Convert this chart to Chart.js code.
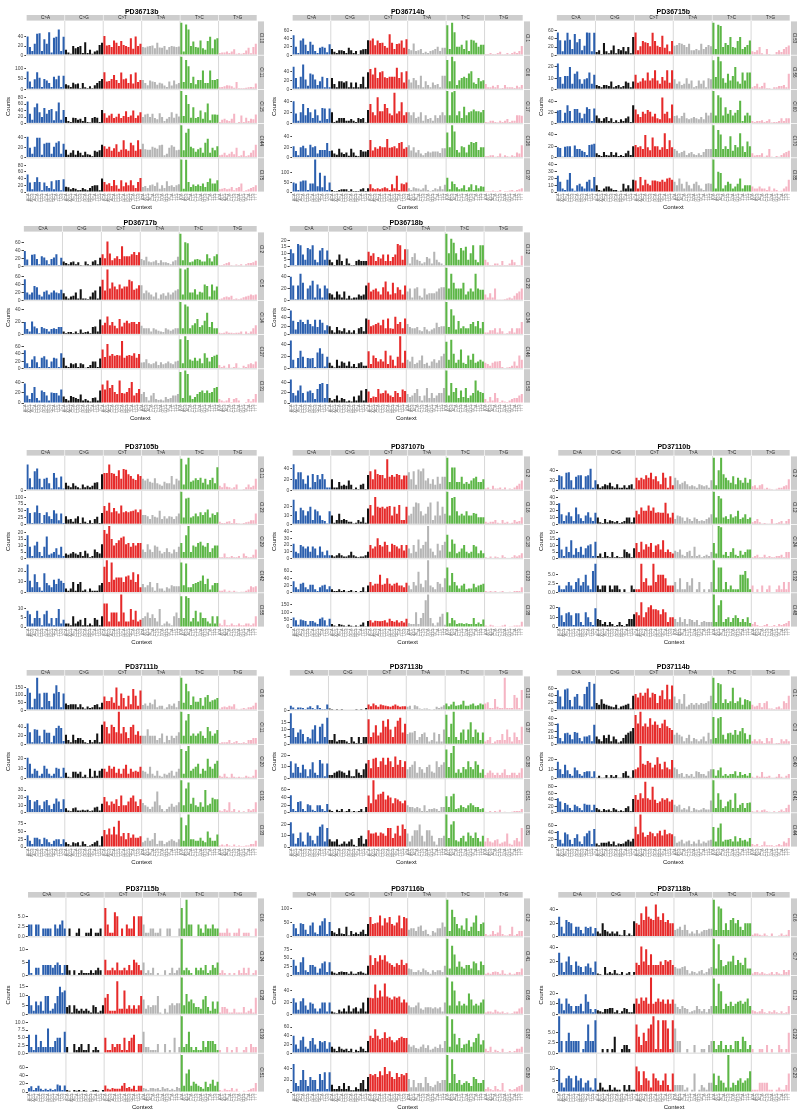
<!DOCTYPE html>
<html>
<head>
<meta charset="utf-8">
<script src="https://cdn.jsdelivr.net/npm/chart.js@4.4.1/dist/chart.umd.min.js"></script>
<style>
  body { margin: 0; background: #fff; width: 800px; height: 1116px; position: relative; overflow: hidden; }
  canvas { position: absolute; }
</style>
</head>
<body>
<script>
// mutation classes and the 96 trinucleotide contexts
const mutTypes = ['C>A', 'C>G', 'C>T', 'T>A', 'T>C', 'T>G'];
const mutColors = ['#2b5fae', '#121212', '#e62a2a', '#b5b5b5', '#5cb646', '#f5b5c4'];
const bases = ['A', 'C', 'G', 'T'];
const contexts = [];
mutTypes.forEach(m => bases.forEach(a => bases.forEach(b => contexts.push(a + m[0] + b))));

const samples = ['PD36713b', 'PD36714b', 'PD36715b', 'PD36717b', 'PD36718b', 'PD37105b', 'PD37107b',
  'PD37110b', 'PD37111b', 'PD37113b', 'PD37114b', 'PD37115b', 'PD37116b', 'PD37118b'];

const cloneLabels = [
  ['Cl.10', 'Cl.11', 'Cl.15', 'Cl.44', 'Cl.75'],
  ['Cl.1', 'Cl.6', 'Cl.17', 'Cl.26', 'Cl.37'],
  ['Cl.53', 'Cl.56', 'Cl.60', 'Cl.70', 'Cl.85'],
  ['Cl.2', 'Cl.5', 'Cl.14', 'Cl.27', 'Cl.31'],
  ['Cl.12', 'Cl.23', 'Cl.34', 'Cl.46', 'Cl.50'],
  ['Cl.11', 'Cl.23', 'Cl.29', 'Cl.42', 'Cl.55'],
  ['Cl.2', 'Cl.16', 'Cl.18', 'Cl.23', 'Cl.38'],
  ['Cl.2', 'Cl.12', 'Cl.24', 'Cl.32', 'Cl.48'],
  ['Cl.6', 'Cl.11', 'Cl.20', 'Cl.31', 'Cl.33'],
  ['Cl.10', 'Cl.37', 'Cl.38', 'Cl.51', 'Cl.81'],
  ['Cl.1', 'Cl.3', 'Cl.40', 'Cl.41', 'Cl.44'],
  ['Cl.6', 'Cl.24', 'Cl.28', 'Cl.39', 'Cl.51'],
  ['Cl.2', 'Cl.41', 'Cl.65', 'Cl.87', 'Cl.89'],
  ['Cl.6', 'Cl.7', 'Cl.12', 'Cl.22', 'Cl.23']
];

// counts per clone, 96 values in context order (C>A, C>G, C>T, T>A, T>C, T>G)
const counts_PD36713b = [
  [41,18,9,25,47,48,9,35,25,50,6,38,40,56,9,40, 12,6,3,20,15,18,20,5,28,5,12,3,8,10,22,27, 42,21,22,18,32,27,20,31,22,20,18,37,14,41,20,25, 18,17,19,20,21,15,27,17,16,20,12,18,20,19,18,19, 71,8,67,56,20,30,18,17,32,15,12,31,40,15,34,37, 5,6,6,8,5,8,13,3,4,3,5,10,16,4,18,25],
  [85,38,12,48,82,55,12,50,42,30,12,60,48,65,12,65, 25,20,12,32,25,28,5,30,10,5,15,5,20,30,40,50, 82,38,40,50,68,45,30,80,48,52,30,72,28,80,35,45, 45,30,20,42,38,35,22,32,28,18,12,38,18,42,25,30, 155,35,140,110,30,60,25,45,45,90,30,30,90,45,45,50, 10,12,15,20,18,15,8,35,5,5,5,8,10,12,10,28],
  [68,30,12,50,62,35,20,48,30,42,45,10,38,65,12,42, 20,8,5,18,17,12,15,8,20,5,3,17,20,18,5,42, 32,18,25,30,17,21,30,17,23,38,20,25,40,17,25,35, 20,28,30,20,30,17,13,32,20,8,15,20,35,18,30,22, 100,23,88,60,18,50,17,20,40,15,35,62,10,28,28,27, 5,12,15,10,8,15,30,2,5,25,5,18,8,15,13,28],
  [42,20,8,22,40,40,6,28,30,30,8,22,30,33,8,28, 16,6,10,15,6,14,10,5,12,7,6,3,14,12,15,26, 23,18,22,14,19,27,12,16,35,17,14,30,25,14,35,17, 28,17,16,16,22,20,18,25,26,5,8,20,25,22,15,16, 65,15,50,58,22,19,12,17,20,10,30,38,10,20,15,23, 5,6,10,5,8,12,7,20,3,5,14,3,5,10,15,26],
  [52,28,8,30,44,30,5,28,18,12,32,8,35,36,5,38, 16,14,8,12,10,5,6,12,8,5,12,18,20,20,5,40, 30,22,26,18,36,20,10,35,17,28,20,35,20,12,30,42, 15,18,12,20,22,18,28,10,20,12,32,18,20,15,20,23, 97,10,96,30,15,22,18,22,18,25,15,30,40,25,25,35, 8,10,12,8,10,15,5,12,15,25,3,5,8,12,15,20]
];
const counts_PD36714b = [
  [48,20,5,35,40,25,10,32,25,10,5,18,20,18,7,26, 15,8,5,12,12,10,5,18,12,5,10,2,12,14,15,36, 35,40,24,35,29,30,22,18,50,30,15,27,28,35,18,38, 15,12,28,10,12,15,5,8,5,10,12,15,20,10,18,18, 72,15,78,55,20,20,25,15,35,10,37,35,30,20,25,25, 3,3,5,3,3,5,8,2,2,5,2,5,8,5,10,22],
  [50,25,5,28,55,22,8,35,33,22,10,18,28,5,25,5, 25,12,5,18,18,15,18,5,15,5,15,5,12,28,5,38, 45,33,48,25,38,40,27,25,28,28,28,48,25,38,15,40, 22,15,25,20,10,30,5,18,10,5,15,10,12,5,30,30, 65,18,72,62,10,20,25,28,25,35,40,15,12,25,18,20, 12,5,5,8,5,10,2,3,10,5,5,5,3,8,5,10],
  [40,18,5,20,35,15,28,20,10,25,15,5,28,27,8,27, 20,3,5,10,10,10,5,5,8,5,3,10,8,10,2,24, 35,20,15,47,22,22,35,28,18,15,55,18,22,38,15,20, 20,15,20,10,12,20,5,15,8,10,5,15,10,15,20,15, 58,15,56,58,15,22,10,30,15,20,22,25,22,22,20,24, 3,2,5,5,3,2,5,3,5,8,3,5,5,15,15,14],
  [22,13,5,20,23,18,5,25,20,22,8,15,15,15,28,13, 14,8,6,17,10,7,10,4,17,10,4,3,15,12,12,15, 34,14,20,17,22,20,20,36,19,20,22,18,28,30,17,20, 24,14,20,10,15,8,5,9,12,10,12,12,12,9,18,18, 48,20,62,50,15,10,22,20,10,25,30,28,30,15,20,20, 3,3,5,5,2,3,8,2,5,3,2,5,3,10,8,24],
  [50,45,10,55,60,60,10,45,45,170,30,100,25,85,10,50, 10,5,5,10,15,15,15,5,15,5,5,5,15,20,5,20, 40,20,15,20,15,20,25,20,10,40,20,85,10,45,40,50, 20,10,25,20,18,12,20,38,10,5,10,20,15,30,15,38, 75,15,55,42,25,15,20,35,10,25,40,10,35,20,30,28, 5,5,5,8,5,5,10,3,5,5,8,10,5,10,15,20]
];
const counts_PD36715b = [
  [56,37,10,36,55,38,15,52,32,40,12,23,56,55,10,55, 8,12,3,30,10,5,12,24,5,15,12,20,10,20,5,45, 56,12,22,35,32,30,22,55,35,23,20,48,18,26,10,35, 23,25,30,28,25,20,28,12,12,15,12,28,15,20,25,22, 80,15,75,72,20,30,25,45,20,18,35,45,15,20,25,36, 10,8,12,20,5,2,15,3,0,2,8,12,8,15,20,24],
  [23,11,5,12,12,20,5,14,16,9,5,9,10,15,5,13, 4,3,2,4,4,3,7,2,3,4,2,3,7,6,2,7, 13,6,7,10,8,15,8,10,17,8,5,11,8,17,6,17, 9,5,7,4,5,10,5,8,2,3,8,5,8,2,10,9, 26,11,29,25,10,6,14,8,12,20,7,5,15,8,15,15, 2,3,5,2,3,6,1,1,0,2,2,3,3,4,2,14],
  [24,25,5,20,34,23,5,27,27,20,10,18,30,27,5,28, 15,10,5,10,12,5,10,3,6,3,8,5,10,13,3,34, 26,17,12,22,18,25,22,13,18,10,8,48,18,22,10,35, 14,15,10,14,20,10,8,10,12,10,8,12,8,20,15,20, 60,15,52,48,15,30,18,25,15,20,25,42,5,15,20,15, 5,3,5,5,6,3,5,8,2,3,3,5,10,5,10,10],
  [18,17,2,19,20,20,2,21,15,15,12,10,5,22,23,24, 8,5,3,10,5,4,10,5,9,3,5,3,8,12,5,20, 22,18,20,15,39,18,13,35,20,20,14,18,42,15,30,18, 15,12,8,10,12,5,8,10,6,5,8,5,10,15,15,15, 56,15,48,40,15,20,15,37,12,22,18,42,20,10,28,20, 8,4,5,5,8,2,4,15,2,1,3,2,5,8,10,12],
  [24,15,5,3,18,28,5,2,10,12,8,5,15,18,5,22, 10,3,2,5,8,8,5,3,3,1,2,12,5,10,5,18, 17,5,22,10,18,12,10,17,17,16,15,18,15,20,21,18, 15,10,20,12,5,15,10,5,12,15,10,5,3,12,13,12, 48,5,30,28,5,10,15,12,5,8,12,20,5,10,10,10, 8,5,5,8,5,5,3,8,2,5,3,1,2,5,8,18]
];
const counts_PD36717b = [
  [38,17,2,29,30,18,5,25,22,15,5,18,22,30,3,21, 12,8,5,10,12,5,10,3,2,12,5,3,12,15,5,21, 30,20,62,32,15,20,25,18,50,25,25,25,30,36,28,35, 18,15,24,12,10,12,15,8,15,10,10,8,5,12,15,24, 82,15,60,58,10,12,17,18,16,12,12,30,20,12,25,30, 3,3,5,8,10,3,2,4,3,5,1,5,8,8,10,14],
  [53,20,15,20,36,33,14,10,22,25,15,20,25,20,18,27, 18,10,5,10,12,20,5,28,5,5,3,10,20,25,5,35, 52,25,78,30,45,35,28,40,30,35,35,52,48,27,30,38, 38,18,25,20,15,10,20,5,15,18,12,20,15,20,25,28, 80,15,78,82,20,20,28,15,22,20,40,36,10,40,25,35, 3,5,8,10,8,12,3,5,3,5,8,10,12,15,13,15],
  [20,9,5,21,13,10,2,12,10,9,5,9,10,9,12,12, 5,2,4,4,2,5,2,8,3,4,5,2,12,13,5,24, 15,19,29,15,20,14,10,25,13,19,22,18,20,20,17,20, 14,10,10,10,5,10,8,6,5,4,10,8,6,8,10,10, 52,10,48,45,10,15,18,25,12,15,22,35,12,20,10,10, 3,2,3,5,3,3,2,3,3,5,1,5,2,5,10,15],
  [50,15,5,25,34,18,5,30,34,25,5,20,30,28,5,42, 30,8,5,15,12,15,5,15,12,3,5,10,20,20,5,28, 52,32,67,35,40,35,37,36,75,30,35,37,35,42,30,40, 17,18,26,15,12,15,20,10,18,12,15,20,15,12,20,22, 80,15,88,78,25,22,30,22,28,15,42,30,20,32,35,38, 10,5,8,3,12,3,5,15,3,2,8,5,12,15,12,20],
  [39,15,8,20,32,10,5,25,22,15,5,21,20,20,15,27, 13,8,5,14,12,10,8,17,5,8,5,3,10,11,5,25, 37,27,45,30,36,22,18,45,20,19,22,30,42,15,20,28, 18,22,12,5,15,20,8,6,7,5,12,8,10,15,15,18, 62,10,65,58,15,8,12,18,22,25,20,25,20,22,30,32, 8,5,3,5,10,2,8,10,5,1,1,2,8,3,8,18]
];
const counts_PD36718b = [
  [13,10,1,17,16,9,5,14,13,16,5,3,12,14,5,12, 5,3,1,5,9,4,1,6,2,1,1,4,5,4,4,4, 11,8,10,4,7,6,9,4,9,4,7,9,17,16,5,13, 13,2,7,10,5,4,2,3,7,6,2,11,5,3,2,1, 25,10,21,18,10,5,14,12,15,5,10,16,5,3,16,16, 5,3,1,1,2,2,1,4,1,1,2,5,3,1,1,8],
  [40,25,2,25,45,30,2,20,25,33,5,27,20,5,25,20, 12,10,5,15,10,5,15,3,8,3,5,5,10,8,10,25, 30,15,18,20,15,10,22,32,15,10,30,12,22,18,10,25, 15,20,5,20,22,8,5,20,10,12,12,12,15,20,22,22, 55,20,45,30,20,20,20,30,10,15,20,15,45,20,18,18, 10,5,12,5,20,1,1,1,2,3,5,3,8,12,15,20],
  [57,33,12,30,35,30,25,35,25,20,35,18,35,28,10,22, 20,10,5,18,10,8,15,5,10,5,10,2,15,18,8,38, 35,20,22,25,28,22,35,15,38,15,14,42,25,30,15,38, 25,18,15,15,18,10,8,18,12,8,12,15,28,18,20,20, 77,18,60,45,12,32,15,20,15,15,25,30,20,32,15,30, 5,5,10,10,15,5,15,8,2,3,8,15,5,15,15,30],
  [47,15,2,18,30,20,3,18,17,18,3,27,34,25,4,20, 10,5,2,15,5,12,10,5,12,4,8,3,9,11,5,5, 29,8,22,18,12,16,12,30,8,22,15,5,20,54,10,30, 15,12,20,8,10,14,22,8,10,5,12,16,10,14,21,25, 45,15,48,25,10,15,32,10,8,22,15,25,10,12,15,12, 10,8,5,10,12,12,13,3,1,2,3,5,12,5,22,15],
  [47,20,15,25,35,20,5,23,25,20,8,28,38,40,10,38, 10,5,8,15,5,10,8,3,5,3,13,5,15,25,5,28, 23,10,13,12,28,19,20,25,19,15,12,24,20,12,27,24, 18,12,15,20,28,14,5,15,30,10,20,10,15,20,20,30, 65,15,40,22,30,10,25,12,30,10,15,20,45,25,22,20, 8,3,12,5,20,10,2,5,3,2,5,8,10,10,15,18]
];
const counts_PD37105b = [
  [45,21,5,33,38,20,5,20,22,12,3,30,22,5,24,3, 13,8,5,12,8,5,3,10,5,8,5,8,13,14,2,28, 30,30,45,30,29,25,35,20,37,36,28,25,20,18,28,25, 20,17,20,15,13,21,12,10,8,15,12,12,25,10,20,17, 55,10,45,57,15,17,21,18,22,13,20,10,18,22,12,40, 8,5,12,6,5,3,5,10,1,1,2,5,10,5,8,20],
  [60,42,5,45,70,42,5,35,45,30,20,52,40,15,40,5, 30,18,20,10,22,30,5,25,10,5,15,5,20,28,5,42, 68,50,80,45,60,48,40,70,45,48,45,48,50,55,45,55, 35,35,30,20,35,28,25,50,20,30,22,30,28,20,30,40, 120,25,95,98,25,30,40,30,45,35,45,55,25,40,35,45, 10,5,5,10,12,5,20,5,3,2,5,8,10,15,15,40],
  [18,9,2,10,13,5,2,9,17,3,4,5,8,3,9,2, 4,3,4,5,4,3,5,2,6,4,1,2,7,5,4,11, 22,19,25,15,10,12,14,16,17,11,12,9,12,10,12,12, 7,5,11,7,5,10,9,6,4,5,8,5,4,7,5,9, 12,5,18,25,5,10,9,12,13,10,9,12,5,8,10,10, 1,1,4,1,1,2,1,1,2,0,4,2,1,1,3,7],
  [26,11,5,17,10,5,2,18,9,7,5,12,8,13,11,9, 4,2,4,10,2,8,10,2,3,1,4,2,2,2,7,9, 24,30,10,28,12,14,14,14,10,15,16,12,19,10,17,5, 8,5,7,10,5,2,9,4,4,2,5,4,7,6,6,6, 28,7,27,5,5,8,9,10,11,16,8,13,3,7,9,9, 2,2,3,1,2,1,2,1,0,1,1,2,3,6,5,6],
  [9,7,2,5,9,5,1,7,9,2,5,1,5,10,2,4, 2,2,1,6,2,3,4,1,5,1,2,1,5,4,1,6, 13,13,3,8,8,8,3,18,8,3,3,10,4,9,3,4, 5,6,8,5,7,5,3,10,1,2,3,2,1,6,8,5, 17,5,17,16,3,5,9,3,8,5,5,3,2,6,2,6, 2,1,4,1,1,2,1,1,2,1,1,2,2,1,2,6]
];
const counts_PD37107b = [
  [48,20,33,33,20,12,27,5,30,15,28,20,30,20,5,5, 20,5,5,15,8,10,8,18,10,2,5,2,10,12,2,28, 35,20,38,30,28,28,22,57,25,28,25,30,28,20,27,27, 33,20,35,10,38,35,40,18,22,12,20,10,25,12,25,25, 60,15,42,42,15,15,25,12,15,12,18,22,25,15,15,20, 3,5,2,8,3,3,5,2,5,1,3,2,5,8,12,18],
  [28,15,5,19,16,10,15,20,5,17,15,10,5,4,1,15, 10,2,5,12,5,6,5,3,3,1,2,5,3,8,2,18, 22,10,31,20,19,20,18,20,21,10,20,12,22,5,5,20, 10,12,20,25,24,15,10,12,20,25,5,10,26,10,20,12, 37,10,30,31,15,10,12,10,15,10,10,13,12,8,8,8, 3,2,3,3,5,2,1,5,2,3,1,2,5,3,4,8],
  [22,10,8,20,18,15,18,10,18,15,5,18,10,5,12,5, 5,3,5,8,5,3,3,5,10,5,3,2,3,3,5,10, 20,15,18,30,20,18,25,20,10,22,20,18,15,20,12,20, 15,8,20,10,28,15,20,25,48,15,10,5,22,12,20,25, 35,10,28,22,8,10,15,20,10,8,10,20,18,8,12,8, 2,1,3,1,3,2,1,5,2,1,1,2,5,3,5,8],
  [32,15,10,25,28,15,10,22,22,10,5,15,20,22,10,18, 10,5,5,10,5,8,3,5,8,3,5,2,5,15,3,20, 30,20,25,25,50,22,25,40,25,20,25,28,20,20,15,28, 20,10,30,20,58,25,15,35,90,20,15,10,30,25,15,40, 70,20,55,30,20,12,20,25,10,12,12,25,15,20,22,25, 5,3,5,3,5,2,3,5,2,1,3,2,5,5,5,15],
  [65,45,15,50,45,40,15,40,40,30,20,55,65,45,10,55, 20,10,5,20,15,10,5,15,8,5,10,5,15,30,5,40, 45,30,42,40,38,40,45,30,55,40,35,45,30,40,30,55, 25,20,20,100,20,60,95,180,220,60,25,10,30,70,90,15, 100,25,60,45,20,25,25,20,25,20,20,60,20,30,20,50, 10,5,15,10,5,5,5,10,15,3,5,5,10,10,10,35]
];
const counts_PD37110b = [
  [30,28,5,35,36,20,5,27,30,30,5,28,30,43,5,20, 12,5,8,12,10,15,8,5,12,5,5,10,5,10,12,3, 25,20,25,22,30,25,35,22,28,18,12,35,25,5,28,10, 25,20,12,15,18,12,8,10,8,5,12,10,8,10,5,20, 65,10,40,65,32,25,20,15,28,12,25,20,15,25,15,22, 8,10,5,10,12,3,5,3,2,1,3,5,5,8,10,22],
  [31,15,5,13,18,12,5,25,15,9,5,13,18,10,5,17, 10,3,2,8,3,6,5,3,5,2,3,5,10,10,3,10, 20,15,25,20,20,28,20,25,17,18,17,17,32,16,10,17, 8,13,12,10,5,10,8,5,10,8,5,6,5,8,10,15, 48,10,42,38,10,12,8,15,10,12,20,8,10,15,8,10, 3,5,8,3,1,2,1,1,8,1,2,3,5,1,5,8],
  [16,7,2,9,5,14,3,8,5,9,3,8,10,11,2,13, 2,4,1,5,2,1,5,1,2,1,1,7,5,4,1,8, 12,5,13,7,11,9,12,5,10,11,7,14,5,7,5,4, 6,5,7,3,2,5,6,2,9,2,3,1,2,3,2,5, 12,4,25,24,3,5,2,5,8,3,2,6,3,5,7,7, 1,2,3,1,1,3,1,2,1,1,2,2,3,1,5,5],
  [2,1,1,2,3,2,1,3,4,2,3,5,2,1,6,8, 2,1,2,2,0,2,1,2,2,1,0,1,0,0,2,1, 1,1,8,3,4,2,2,8,3,5,5,5,4,2,2,2, 3,1,4,1,1,3,2,4,0,1,3,0,1,0,1,3, 9,1,7,7,1,3,1,2,1,1,1,5,5,6,4,1, 2,0,1,0,2,0,1,2,0,0,1,2,1,3,1,3],
  [20,12,5,14,15,12,2,14,14,5,2,15,10,5,2,19, 8,7,3,5,2,5,3,1,2,5,2,1,3,8,8,13, 15,12,25,10,15,20,22,18,18,17,13,18,15,5,10,10, 8,5,10,5,8,3,8,7,5,7,2,5,6,5,5,5, 33,5,22,27,5,8,10,5,9,12,9,5,8,5,10,4, 3,5,2,1,1,2,3,1,1,2,1,3,2,3,4,6]
];
const counts_PD37111b = [
  [145,115,20,75,215,110,20,115,115,60,25,110,165,120,20,110, 45,35,40,40,40,20,40,20,10,25,15,20,35,40,20,50, 90,60,60,85,50,150,30,110,80,25,95,40,140,95,30,130, 35,45,30,50,40,70,20,30,30,10,20,40,30,45,20,60, 215,50,175,125,35,90,55,55,80,30,85,100,55,65,70,80, 10,20,25,20,30,25,40,10,5,10,15,10,20,20,30,50],
  [48,28,5,35,34,20,5,34,27,27,5,20,38,43,38,8, 22,10,5,22,10,15,15,10,5,3,10,5,10,25,5,45, 53,40,25,45,40,28,75,25,40,28,15,40,45,22,30,20, 20,20,35,20,20,20,10,15,25,5,20,10,20,15,20,28, 75,20,55,70,20,25,20,25,30,20,15,40,30,20,25,33, 3,5,5,5,10,3,5,8,3,3,5,3,10,10,15,15],
  [21,15,5,10,8,3,5,13,10,5,3,5,11,10,2,11, 6,2,1,7,7,5,7,2,4,1,10,2,8,3,8,10, 10,7,13,10,12,6,10,5,10,14,5,10,7,8,7,12, 8,7,5,12,5,3,8,3,2,5,4,6,8,3,7,10, 30,5,28,33,8,10,12,15,5,10,8,20,12,10,15,18, 3,2,5,2,1,5,2,1,2,1,1,3,2,1,3,9],
  [23,17,5,15,17,10,5,15,17,10,5,12,19,15,5,18, 6,3,2,6,7,3,3,4,3,4,2,3,7,8,3,12, 21,15,10,15,12,18,9,23,10,10,15,20,23,15,9,18, 13,10,8,5,8,15,28,10,5,2,5,8,12,8,10,14, 43,10,32,40,12,20,10,8,14,8,30,10,12,20,18,18, 3,2,5,3,14,2,5,1,3,1,2,1,5,3,5,14],
  [38,20,10,30,30,25,10,30,25,15,10,20,25,25,10,25, 15,10,5,15,12,15,5,18,10,3,5,10,15,20,5,35, 55,40,60,40,65,40,85,35,45,25,45,30,40,30,30,35, 15,20,30,20,25,45,10,20,20,10,15,20,25,20,15,25, 95,20,70,105,25,25,20,20,30,20,15,50,30,20,20,40, 5,8,5,10,5,3,8,3,5,3,3,5,5,10,10,20]
];
const counts_PD37113b = [
  [40,25,10,25,25,20,10,25,35,20,10,45,20,10,10,50, 15,10,5,10,5,10,5,5,5,3,5,10,5,10,5,20, 50,35,60,45,30,50,45,40,35,30,40,50,40,30,35,35, 30,40,10,45,35,15,10,15,15,10,5,10,30,20,30,45, 60,35,50,75,40,45,50,85,40,40,50,60,40,45,60,50, 60,70,20,20,100,30,20,20,290,20,20,20,135,110,20,180],
  [21,11,5,8,10,7,2,5,4,10,13,2,12,14,5,18, 3,3,7,2,3,3,3,2,1,5,2,1,5,1,5,5, 17,5,8,13,6,8,16,12,17,10,5,12,16,18,8,14, 7,8,8,9,3,5,7,8,5,2,3,8,2,7,2,10, 20,5,14,22,5,3,8,10,3,10,15,5,10,8,3,8, 2,3,5,1,2,3,3,7,3,10,5,2,8,5,3,12],
  [15,5,13,10,5,12,8,2,8,14,5,3,16,13,2,13, 3,3,5,6,7,6,5,3,7,2,2,8,5,3,8,13, 16,9,17,18,10,15,18,12,18,15,10,19,12,16,10,15, 8,10,12,15,5,10,8,5,10,12,6,5,15,10,12,14, 25,10,22,28,5,8,5,10,8,15,10,8,15,12,5,8, 3,5,7,5,3,5,3,5,8,3,3,5,5,3,5,9],
  [46,10,5,28,30,10,5,22,20,8,5,20,20,10,5,23, 8,5,2,8,5,10,3,5,10,3,5,3,5,10,3,15, 45,25,85,35,48,50,55,35,45,40,25,38,35,30,25,32, 20,15,15,12,15,12,5,20,5,10,10,12,10,5,15,15, 43,15,43,50,10,12,20,15,12,20,25,20,15,15,10,12, 3,2,5,2,5,3,8,2,3,1,2,3,5,5,5,10],
  [22,12,3,8,13,5,2,13,10,6,3,10,18,20,5,17, 7,5,5,7,2,3,5,3,5,7,2,1,8,10,3,7, 15,12,12,13,10,13,12,10,17,17,8,12,19,10,20,16, 12,5,10,15,15,20,10,5,15,15,10,5,2,8,8,10, 29,8,20,23,6,5,8,10,5,13,10,8,13,8,5,10, 5,8,5,4,6,7,3,4,5,12,3,2,6,8,5,17]
];
const counts_PD37114b = [
  [55,38,10,57,60,28,10,37,45,12,10,45,65,78,10,73, 20,15,30,18,15,12,10,8,15,5,10,12,15,18,5,40, 45,35,48,40,48,60,35,48,45,20,40,55,30,70,30,68, 38,20,30,18,45,10,15,20,15,20,15,20,18,20,25,40, 90,20,75,72,20,30,20,25,62,20,25,35,15,30,28,25, 15,10,12,20,8,20,25,5,5,3,8,10,5,25,20,40],
  [32,10,5,17,18,15,8,19,18,10,5,12,12,14,5,30, 12,8,5,14,10,15,5,12,8,3,5,10,15,18,20,25, 45,32,50,28,32,27,40,30,35,30,25,32,38,28,25,22, 15,18,15,12,5,10,15,5,10,8,5,8,12,5,18,8, 42,10,40,42,15,8,17,18,15,22,15,20,25,17,8,15, 5,8,5,8,5,2,10,5,10,1,2,2,8,5,8,5],
  [18,10,5,15,9,5,3,12,9,5,3,7,8,8,2,8, 1,3,1,1,4,1,4,2,4,1,1,6,8,3,1,9, 10,12,35,16,15,19,17,12,15,23,16,10,18,12,10,20, 12,10,5,6,2,5,3,5,2,8,7,5,5,3,8,10, 10,3,9,12,3,5,3,5,5,8,3,7,4,5,3,6, 2,1,3,2,7,2,2,3,1,1,2,5,2,1,3,5],
  [45,35,10,30,25,15,8,25,20,15,8,28,25,25,8,25, 15,10,5,12,8,10,5,15,10,5,8,5,15,20,5,42, 55,40,60,45,95,45,40,80,40,30,35,45,40,45,35,40, 25,20,25,10,15,10,20,5,15,10,8,10,15,10,10,38, 100,15,60,40,15,20,35,40,15,60,15,25,30,15,30,32, 5,3,8,3,8,10,5,3,1,5,2,5,10,5,15,25],
  [44,20,10,40,35,20,8,25,35,15,8,30,38,45,8,50, 10,5,12,12,12,15,8,15,5,10,8,10,15,20,15,23, 56,35,90,40,28,33,42,38,30,38,45,32,48,35,38,35, 30,12,15,20,10,15,18,8,15,10,20,10,15,12,18,20, 55,15,53,65,15,20,20,22,15,30,15,25,18,20,15,25, 8,5,8,3,5,15,5,5,5,3,5,8,5,15,12,25]
];
const counts_PD37115b = [
  [3,3,0,3,3,0,2,2,2,2,0,3,2,3,4,2, 0,2,0,0,1,2,0,0,1,1,2,0,1,1,2,0, 7,3,1,1,6,5,0,2,0,3,2,2,5,0,5,5, 3,1,1,2,2,1,1,2,0,0,2,2,0,0,0,2, 7,2,9,3,3,0,0,3,2,1,3,2,2,3,2,2, 1,1,1,2,1,0,1,1,2,0,1,1,1,0,0,2],
  [6,1,0,3,3,0,4,4,4,4,3,4,5,4,1,4, 4,2,0,2,0,1,2,1,1,1,2,1,2,3,2,0, 6,2,2,3,2,5,2,2,3,2,4,2,6,5,4,2, 5,1,2,1,3,0,1,0,0,2,0,1,3,1,2,3, 14,2,3,2,1,0,3,2,3,2,4,1,2,4,3,5, 1,2,1,0,1,0,1,0,2,1,3,1,3,0,1,2],
  [10,5,2,7,5,7,2,10,10,2,3,6,10,15,12,13, 4,5,1,5,3,2,3,2,3,2,1,5,4,1,2,5, 9,11,2,2,2,18,3,3,13,3,5,3,5,3,5,10, 8,3,5,4,5,5,10,1,0,3,1,5,6,5,6,6, 20,5,11,7,8,6,4,4,3,8,10,4,2,7,3,7, 1,4,4,3,1,1,3,1,1,1,4,1,2,3,1,9],
  [6,2,1,6,2,4,2,2,8,2,2,4,5,5,0,7, 2,0,0,3,1,2,3,1,1,3,0,1,2,1,0,0, 5,1,1,3,2,3,3,1,5,1,4,5,6,0,3,3, 7,2,2,1,1,1,3,0,0,3,0,1,0,5,0,2, 12,2,3,7,2,1,2,1,1,4,2,4,4,4,3,1, 1,0,0,2,0,1,0,2,0,0,1,2,0,3,2,2],
  [10,14,5,10,15,8,5,8,5,8,5,7,18,16,5,16, 5,3,1,5,3,5,2,5,3,1,2,4,5,3,1,5, 16,8,6,10,8,8,8,15,22,10,12,8,15,5,15,15, 10,8,5,10,10,8,10,5,12,8,10,5,8,5,12,10, 90,15,45,55,15,25,20,15,12,8,25,12,20,30,15,25, 5,3,8,5,5,10,3,8,2,1,3,2,5,8,10,22]
];
const counts_PD37116b = [
  [45,30,10,48,45,25,10,40,50,15,10,40,55,65,10,52, 20,15,10,30,12,10,35,5,20,10,15,10,18,25,10,45, 70,45,48,50,75,40,65,50,70,45,40,50,75,30,70,65, 25,30,30,20,35,40,20,25,10,5,20,15,30,30,50,35, 130,20,95,70,45,30,40,25,65,20,35,50,75,20,45,50, 10,5,8,20,10,15,40,10,5,5,10,35,5,10,20,20],
  [45,28,10,38,52,15,10,30,30,25,8,20,35,40,10,38, 12,8,5,10,12,10,10,5,12,5,5,10,12,8,5,28, 58,30,50,40,58,45,58,40,35,30,25,35,30,45,30,35, 20,18,10,10,15,10,20,15,10,5,15,10,15,15,10,28, 105,20,85,60,25,40,25,20,30,30,20,40,35,15,40,30, 5,8,5,10,12,10,5,15,5,3,8,3,5,10,10,20],
  [27,20,8,22,27,15,8,20,18,10,5,10,20,20,5,20, 5,3,2,8,5,10,5,15,5,10,12,5,10,20,5,28, 28,27,50,28,40,30,52,30,28,25,30,28,30,20,25,20, 15,12,12,15,20,10,8,12,12,12,10,12,10,12,5,20, 62,15,55,40,15,22,15,18,15,35,25,15,18,15,20,25, 3,5,5,3,8,5,3,5,2,3,1,2,5,5,10,12],
  [40,20,10,30,38,15,10,28,35,20,10,28,25,28,10,25, 15,10,5,15,10,8,10,5,10,3,8,5,15,10,5,28, 40,35,55,40,32,35,48,35,38,30,25,30,35,38,35,35, 20,15,18,12,10,15,20,12,18,8,10,15,12,20,12,28, 85,15,78,45,20,35,12,20,22,30,15,25,35,45,20,30, 10,5,15,3,8,5,3,10,2,3,5,2,5,10,10,15],
  [47,15,10,20,37,20,10,25,20,20,5,30,20,33,5,33, 12,5,5,10,5,15,5,10,3,3,8,5,15,20,5,25, 30,28,30,25,35,28,42,30,35,25,22,32,25,30,28,32, 22,8,20,8,15,15,8,25,15,10,8,12,18,15,20,20, 62,15,55,30,15,20,12,15,18,15,10,25,22,15,15,20, 5,8,5,3,10,5,3,15,2,1,5,3,5,8,10,12]
];
const counts_PD37118b = [
  [30,15,5,25,22,20,5,15,15,10,5,15,13,15,5,13, 8,5,20,10,8,5,8,5,8,3,2,10,2,5,2,23, 20,18,35,25,45,30,27,25,48,30,25,35,22,25,20,20, 10,12,15,10,18,10,5,8,5,10,5,8,10,10,12,12, 55,10,45,42,10,20,10,25,28,20,25,15,10,20,20,20, 3,5,5,3,2,5,2,1,5,1,1,2,5,2,3,10],
  [32,18,5,20,27,15,5,20,14,12,5,13,17,11,5,20, 3,2,1,12,3,5,3,8,3,2,5,1,3,5,1,5, 18,15,41,20,37,15,30,15,15,15,20,15,22,20,22,15, 12,10,10,12,13,8,3,6,5,3,6,8,3,5,10,12, 52,10,44,22,13,15,20,20,28,15,22,18,15,25,10,10, 3,5,5,3,5,3,2,3,5,2,5,3,2,8,5,8],
  [15,10,4,15,10,8,3,8,8,10,3,19,12,5,2,5, 4,3,2,5,5,6,6,2,4,1,3,6,5,2,2,10, 15,10,16,13,16,10,35,10,12,15,12,14,10,14,10,14, 10,7,5,8,6,5,2,3,4,8,5,3,5,2,5,8, 34,8,29,22,5,10,8,12,8,10,12,13,10,12,15,8, 4,3,2,3,5,2,1,3,2,4,2,1,3,1,2,8],
  [9,3,0,3,5,3,3,3,3,0,1,3,7,3,3,8, 0,0,1,0,1,0,1,4,0,0,1,2,2,1,0,0, 7,4,2,5,3,6,7,9,1,8,1,8,8,6,1,8, 6,3,3,0,0,1,0,0,2,0,0,1,1,0,2,3, 3,1,2,3,1,2,1,2,1,3,3,1,4,3,1,2, 1,0,0,1,1,0,2,0,1,0,0,2,1,0,1,5],
  [10,4,2,6,7,6,2,7,5,6,2,4,5,2,1,6, 1,4,2,1,1,3,1,2,1,1,0,3,1,3,1,1, 11,9,3,9,6,5,2,8,6,5,3,5,8,3,1,8, 3,3,3,3,1,2,0,1,8,0,1,3,2,1,4,4, 8,3,7,5,4,2,16,2,4,3,5,6,4,5,6,9, 1,1,1,4,4,4,4,1,1,0,1,2,1,1,3,8]
];

const sampleCounts = [counts_PD36713b, counts_PD36714b, counts_PD36715b, counts_PD36717b, counts_PD36718b,
  counts_PD37105b, counts_PD37107b, counts_PD37110b, counts_PD37111b, counts_PD37113b, counts_PD37114b,
  counts_PD37115b, counts_PD37116b, counts_PD37118b];

// page layout: which slot each sample sits in
const slots = [[0,0],[1,0],[2,0],[0,1],[1,1],[0,2],[1,2],[2,2],[0,3],[1,3],[2,3],[0,4],[1,4],[2,4]];
const colX = [0, 266, 533];
const rowY = [0, 211, 435, 655, 877];
const rowH = [215, 215, 215, 215, 238];
const W = 267;
const FONT = '"Liberation Sans", Arial, sans-serif';
const barColors = contexts.map((c, i) => mutColors[Math.floor(i / 16)]);

function pickStep(top) {
  const steps = [1, 2.5, 5, 10, 20, 25, 50, 100, 200];
  for (const s of steps) if (top / s <= 5.3) return s;
  return 500;
}

function groupEdges(chart) {
  const x = chart.scales.x, ca = chart.chartArea;
  const e = [ca.left];
  for (let g = 1; g < 6; g++) e.push((x.getPixelForValue(g * 16 - 1) + x.getPixelForValue(g * 16)) / 2);
  e.push(ca.right);
  return e;
}

const facetDecor = {
  id: 'facetDecor',
  beforeDatasetsDraw(chart) {
    const { ctx, chartArea: ca } = chart;
    const edges = groupEdges(chart);
    ctx.save();
    ctx.strokeStyle = '#d8d8d8';
    ctx.lineWidth = 1;
    for (let g = 1; g < 6; g++) {
      ctx.beginPath();
      ctx.moveTo(edges[g], ca.top);
      ctx.lineTo(edges[g], ca.bottom);
      ctx.stroke();
    }
    ctx.restore();
  },
  afterDatasetsDraw(chart, args, opts) {
    const { ctx, chartArea: ca, scales } = chart;
    const edges = groupEdges(chart);
    ctx.save();
    // gaps between clone rows
    ctx.fillStyle = '#e4e4e4';
    for (let r = 1; r < 5; r++) {
      const y = scales['r' + r].top;
      ctx.fillRect(ca.left, y - 0.75, ca.right - ca.left, 1.5);
    }
    // column strips
    ctx.font = '4.5px ' + FONT;
    ctx.textAlign = 'center';
    ctx.textBaseline = 'middle';
    for (let g = 0; g < 6; g++) {
      ctx.fillStyle = '#cdcdcd';
      ctx.fillRect(edges[g] + 0.3, ca.top - 6, edges[g + 1] - edges[g] - 0.6, 5.6);
      ctx.fillStyle = '#222';
      ctx.fillText(mutTypes[g], (edges[g] + edges[g + 1]) / 2, ca.top - 3.1);
    }
    // row strips
    for (let r = 0; r < 5; r++) {
      const s = scales['r' + r];
      ctx.fillStyle = '#cdcdcd';
      ctx.fillRect(ca.right + 1, s.top + 0.4, 6, s.bottom - s.top - 0.8);
      ctx.save();
      ctx.translate(ca.right + 4, (s.top + s.bottom) / 2);
      ctx.rotate(Math.PI / 2);
      ctx.fillStyle = '#222';
      ctx.fillText(opts.clones[r], 0, 0);
      ctx.restore();
    }
    // context labels under the bars, read bottom to top
    const x = scales.x;
    ctx.font = '3.8px ' + FONT;
    ctx.fillStyle = '#7a7a7a';
    ctx.textAlign = 'right';
    contexts.forEach((lab, i) => {
      ctx.save();
      ctx.translate(x.getPixelForValue(i), ca.bottom + 1.5);
      ctx.rotate(-Math.PI / 2);
      ctx.fillText(lab, 0, 0);
      ctx.restore();
    });
    // title and axis titles
    ctx.textAlign = 'center';
    ctx.fillStyle = '#000';
    ctx.font = 'bold 7px ' + FONT;
    ctx.fillText(opts.title, (ca.left + ca.right) / 2, ca.top - 9);
    ctx.font = '6px ' + FONT;
    ctx.fillStyle = '#111';
    ctx.fillText('Context', (ca.left + ca.right) / 2, chart.height - 8);
    ctx.save();
    ctx.translate(8, (ca.top + ca.bottom) / 2);
    ctx.rotate(-Math.PI / 2);
    ctx.fillText('Counts', 0, 0);
    ctx.restore();
    ctx.restore();
  }
};

samples.forEach((name, k) => {
  const [c, r] = slots[k];
  const cv = document.createElement('canvas');
  cv.width = W; cv.height = rowH[r];
  cv.style.left = colX[c] + 'px';
  cv.style.top = rowY[r] + 'px';
  document.body.appendChild(cv);

  const rows = sampleCounts[k];
  const scales = {
    x: {
      type: 'category',
      labels: contexts,
      offset: true,
      grid: { display: false },
      border: { display: false },
      ticks: { display: false },
      afterFit: ax => { ax.height = 11; }
    }
  };
  // top clone must be defined last so it is placed at the top of the stack
  for (let i = 4; i >= 0; i--) {
    const top = Math.max(...rows[i]) * 1.05;
    const step = pickStep(top);
    scales['r' + i] = {
      type: 'linear',
      position: 'left',
      stack: 'clones',
      stackWeight: 1,
      min: 0,
      max: top,
      grid: { drawOnChartArea: false, drawTicks: true, tickLength: 2, color: '#444' },
      border: { display: false },
      ticks: {
        autoSkip: false,
        stepSize: step,
        padding: 1,
        color: '#444',
        font: { size: 5, family: FONT },
        callback: v => (step % 1 ? v.toFixed(1) : String(v))
      },
      afterBuildTicks: ax => {
        ax.ticks = ax.ticks.filter(t => Math.abs(t.value / step - Math.round(t.value / step)) < 1e-6);
      }
    };
  }

  new Chart(cv, {
    type: 'bar',
    data: {
      labels: contexts,
      datasets: rows.map((vals, i) => ({
        data: vals,
        yAxisID: 'r' + i,
        backgroundColor: barColors,
        grouped: false,
        barPercentage: 0.85,
        categoryPercentage: 1
      }))
    },
    options: {
      responsive: false,
      animation: false,
      devicePixelRatio: 1,
      layout: { padding: { top: 21, right: 10, bottom: 12, left: 14 } },
      scales: scales,
      plugins: {
        legend: { display: false },
        tooltip: { enabled: false },
        facetDecor: { title: name, clones: cloneLabels[k] }
      }
    },
    plugins: [facetDecor]
  });
});
</script>
</body>
</html>
